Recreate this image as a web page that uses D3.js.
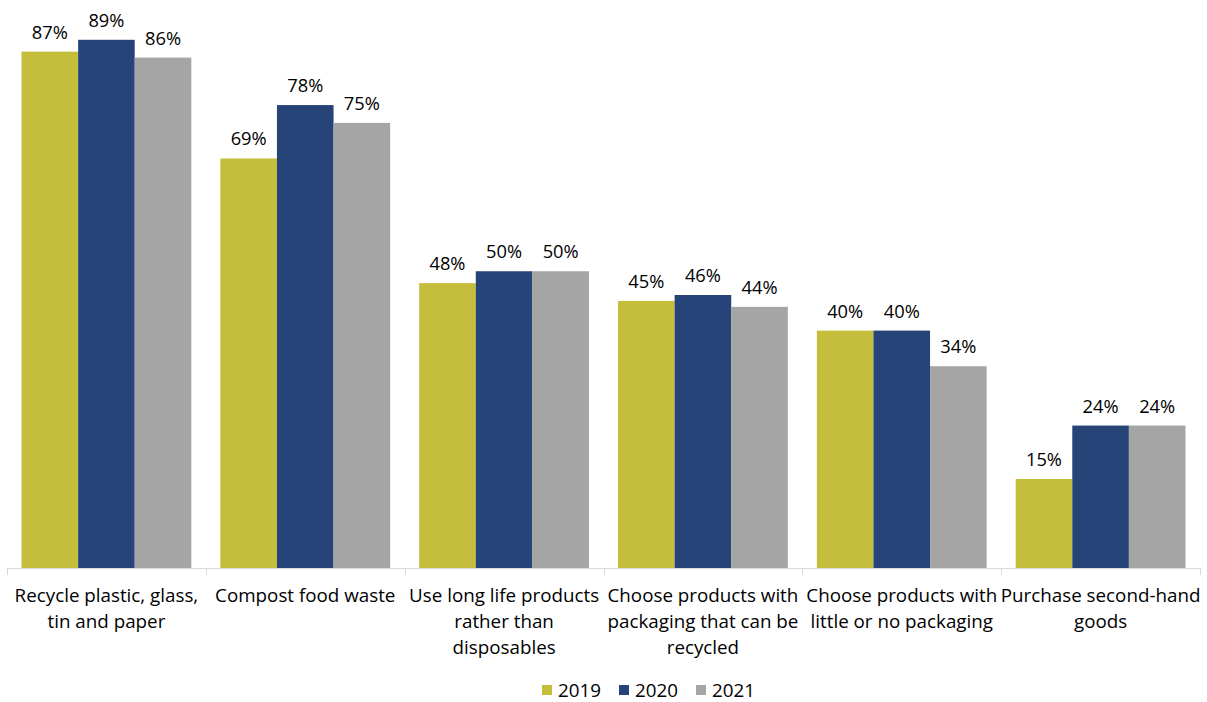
<!DOCTYPE html>
<html>
<head>
<meta charset="utf-8">
<script src="https://cdn.jsdelivr.net/npm/d3@7"></script>
<style>
  html, body { margin: 0; padding: 0; background: #fff; }
  svg text { font-family: "Open Sans", Lato, sans-serif; fill: #000; }
</style>
</head>
<body>
<svg id="chart" width="1207" height="702"></svg>
<script>
// categories, wrapped the way the original chart shows them
const categories = [
  "Recycle plastic, glass,\ntin and paper",
  "Compost food waste",
  "Use long life products\nrather than\ndisposables",
  "Choose products with\npackaging that can be\nrecycled",
  "Choose products with\nlittle or no packaging",
  "Purchase second-hand\ngoods",
];
const years = ["2019", "2020", "2021"];
const values2019 = [87, 69, 48, 45, 40, 15];
const values2020 = [89, 78, 50, 46, 40, 24];
const values2021 = [86, 75, 50, 44, 34, 24];
const seriesValues = [values2019, values2020, values2021];

const COLORS = ["#c5be3c", "#264478", "#a5a5a5"];

const svg = d3.select("#chart");
const plot = { left: 7, right: 1200, bottom: 568 };

const x0 = d3.scaleBand()
  .domain(categories)
  .range([plot.left, plot.right])
  .paddingInner(0.146)
  .paddingOuter(0.073);

const x1 = d3.scaleBand()
  .domain(years)
  .range([0, x0.bandwidth()]);

// 0% at the baseline, ~5.935px per point
const y = d3.scaleLinear().domain([0, 100]).range([plot.bottom, plot.bottom - 593.5]);

const rows = categories.map((c, i) => ({
  cat: c,
  vals: years.map((yr, s) => ({ year: yr, s, v: seriesValues[s][i] })),
}));

const groups = svg.append("g")
  .selectAll("g")
  .data(rows)
  .join("g")
  .attr("transform", d => `translate(${x0(d.cat)},0)`);

groups.selectAll("rect")
  .data(d => d.vals)
  .join("rect")
  .attr("x", d => x1(d.year))
  .attr("y", d => y(d.v))
  .attr("width", x1.bandwidth())
  .attr("height", d => y(0) - y(d.v))
  .attr("fill", d => COLORS[d.s]);

groups.selectAll("text.val")
  .data(d => d.vals)
  .join("text")
  .attr("class", "val")
  .attr("x", d => x1(d.year) + x1.bandwidth() / 2)
  .attr("y", d => y(d.v) - 13)
  .attr("text-anchor", "middle")
  .attr("font-size", 18.3)
  .text(d => d.v + "%");

// category axis: light line with tick separators between groups
const axis = svg.append("g");
axis.append("line")
  .attr("x1", plot.left).attr("x2", plot.right)
  .attr("y1", plot.bottom + 0.5).attr("y2", plot.bottom + 0.5)
  .attr("stroke", "#d9d9d9").attr("stroke-width", 1);

const tickXs = d3.range(categories.length + 1).map(i => plot.left + i * (plot.right - plot.left) / categories.length);
axis.selectAll("line.tick")
  .data(tickXs)
  .join("line")
  .attr("class", "tick")
  .attr("x1", d => Math.round(d) + 0.5).attr("x2", d => Math.round(d) + 0.5)
  .attr("y1", plot.bottom).attr("y2", plot.bottom + 7)
  .attr("stroke", "#d9d9d9");

const labels = axis.selectAll("text.cat")
  .data(categories)
  .join("text")
  .attr("class", "cat")
  .attr("text-anchor", "middle")
  .attr("font-size", 18.8)
  .attr("transform", d => `translate(${x0(d) + x0.bandwidth() / 2},602)`);

labels.selectAll("tspan")
  .data(d => d.split("\n"))
  .join("tspan")
  .attr("x", 0)
  .attr("y", (d, i) => i * 26)
  .text(d => d);

// legend
const legendX = [542, 619, 696];
const legend = svg.append("g")
  .selectAll("g")
  .data(years)
  .join("g")
  .attr("transform", (d, i) => `translate(${legendX[i]},685)`);

legend.append("rect")
  .attr("width", 10).attr("height", 10)
  .attr("fill", (d, i) => COLORS[i]);

legend.append("text")
  .attr("x", 16).attr("y", 12)
  .attr("font-size", 18.8)
  .text(d => d);
</script>
</body>
</html>
